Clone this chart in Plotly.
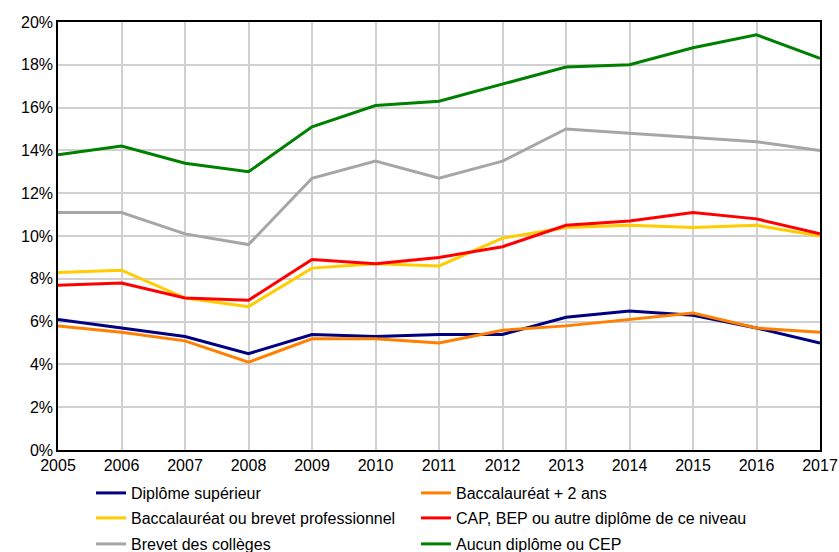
import plotly.graph_objects as go

years = list(range(2005, 2018))
sup = [6.1, 5.7, 5.3, 4.5, 5.4, 5.3, 5.4, 5.4, 6.2, 6.5, 6.3, 5.7, 5.0]
bac2 = [5.8, 5.5, 5.1, 4.1, 5.2, 5.2, 5.0, 5.6, 5.8, 6.1, 6.4, 5.7, 5.5]
bacpro = [8.3, 8.4, 7.1, 6.7, 8.5, 8.7, 8.6, 9.9, 10.4, 10.5, 10.4, 10.5, 10.0]
cap = [7.7, 7.8, 7.1, 7.0, 8.9, 8.7, 9.0, 9.5, 10.5, 10.7, 11.1, 10.8, 10.1]
brevet = [11.1, 11.1, 10.1, 9.6, 12.7, 13.5, 12.7, 13.5, 15.0, 14.8, 14.6, 14.4, 14.0]
aucun = [13.8, 14.2, 13.4, 13.0, 15.1, 16.1, 16.3, 17.1, 17.9, 18.0, 18.8, 19.4, 18.3]

series = [
    ("Diplôme supérieur", sup, "#000080"),
    ("Baccalauréat + 2 ans", bac2, "#FF7F00"),
    ("Baccalauréat ou brevet professionnel", bacpro, "#FFCC00"),
    ("CAP, BEP ou autre diplôme de ce niveau", cap, "#FF0000"),
    ("Brevet des collèges", brevet, "#A6A6A6"),
    ("Aucun diplôme ou CEP", aucun, "#008000"),
]

col_x = [0.0433, 0.4698]
row_y = [-0.1005, -0.1589, -0.2196]

fig = go.Figure()
legends = {}
for i, (name, vals, col) in enumerate(series):
    key = "legend" if i == 0 else f"legend{i + 1}"
    fig.add_trace(go.Scatter(x=years, y=vals, name=name, mode="lines",
                             line=dict(color=col, width=3), legend=key))
    legends[key] = dict(orientation="v", x=col_x[i % 2], xanchor="left",
                        y=row_y[i // 2], yanchor="middle", itemwidth=30,
                        font=dict(size=16), bgcolor="rgba(0,0,0,0)")

fig.update_layout(
    width=839, height=552,
    margin=dict(l=58, r=19, t=22, b=102, autoexpand=False),
    paper_bgcolor="white", plot_bgcolor="white",
    font=dict(family="Liberation Sans, Arial, sans-serif", size=16, color="black"),
    showlegend=True,
    xaxis=dict(range=[2005, 2017], dtick=1, tick0=2005, showgrid=True,
               gridcolor="#D0D0D0", gridwidth=1.5, showline=True, linecolor="black",
               linewidth=1.5, mirror=True, ticks="", zeroline=False,
               tickfont=dict(size=16)),
    yaxis=dict(range=[0, 20], dtick=2, ticksuffix="%", showgrid=True,
               gridcolor="#D0D0D0", gridwidth=1.5, showline=True, linecolor="black",
               linewidth=1.5, mirror=True, ticks="", zeroline=False,
               tickfont=dict(size=16)),
    **legends,
)

fig.write_html(
    "out.html",
    config={"displayModeBar": False},
    post_script="document.body.style.margin='0';document.body.style.overflow='hidden';",
)
